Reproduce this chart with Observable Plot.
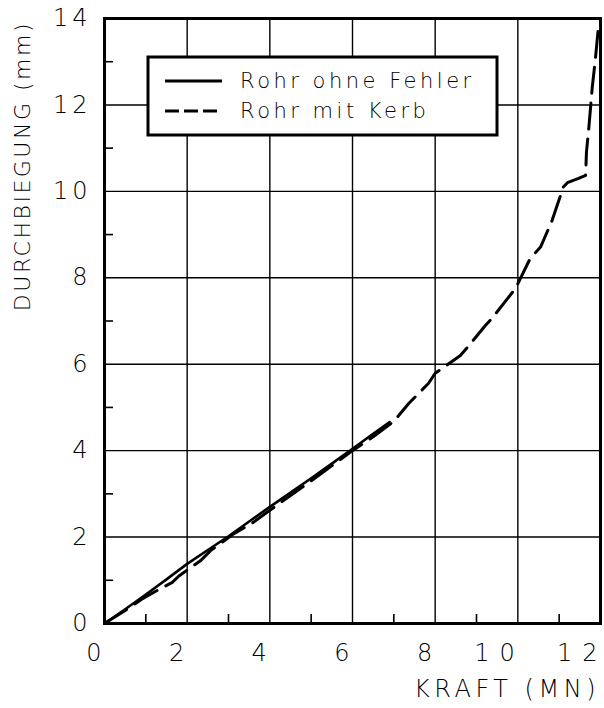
<!DOCTYPE html>
<html><head><meta charset="utf-8">
<script src="https://cdn.jsdelivr.net/npm/d3@7"></script>
<script src="https://cdn.jsdelivr.net/npm/@observablehq/plot@0.6"></script>
<style>
body{margin:0;background:#fff;}
#chart{position:relative;width:604px;height:708px;}
</style></head><body><div id="chart"></div>
<script>
// ---- data ----
const seriesNames = ["Rohr ohne Fehler", "Rohr mit Kerb"];
const kraftOhne = [0, 0.5, 1.0, 1.5, 2.0, 2.5, 3.0, 3.5, 4.0, 4.5, 5.0, 5.5, 6.0, 6.4, 6.9];
const biegOhne  = [0, 0.33, 0.67, 1.02, 1.38, 1.70, 2.02, 2.36, 2.70, 3.03, 3.36, 3.70, 4.04, 4.32, 4.66];
const kraftKerb = [0, 0.5, 0.9, 1.3, 1.64, 1.8, 2.32, 2.56, 3.1, 3.6, 4.0, 5.0, 6.0, 6.5, 7.0, 7.36, 7.84, 8.0, 8.27, 8.61, 8.78, 9.22, 9.39, 9.94, 10.04, 10.3, 10.55, 10.83, 11.1, 11.2, 11.47, 11.64, 11.66, 11.72, 11.8, 11.88, 11.95];
const biegKerb  = [0, 0.30, 0.56, 0.78, 0.95, 1.10, 1.45, 1.68, 2.06, 2.34, 2.62, 3.30, 4.00, 4.32, 4.68, 5.09, 5.56, 5.79, 5.97, 6.20, 6.39, 6.90, 7.08, 7.75, 7.94, 8.45, 8.71, 9.33, 10.10, 10.20, 10.30, 10.37, 10.90, 11.50, 12.40, 13.10, 13.80];
const xTicks = [0, 2, 4, 6, 8, 10, 12];
const yTicks = [0, 2, 4, 6, 8, 10, 12, 14];
const xMinor = [1, 3, 5, 7, 9, 11];
const yMinor = [1, 3, 5, 7, 9, 11, 13];
const xTitle = "KRAFT (MN)";
const yTitle = "DURCHBIEGUNG (mm)";

// ---- tables built from the arrays ----
const ohne = kraftOhne.map((k, i) => ({kraft: k, bieg: biegOhne[i]}));
const kerb = kraftKerb.map((k, i) => ({kraft: k, bieg: biegKerb[i]}));

const W = 604, H = 708, mL = 104, mR = 4, mT = 18, mB = 85;
const FONT = '"DejaVu Sans", sans-serif';
const INK = "#000";
const LS_XT = 10, LS_YT = 4, LS_XTITLE = 4.5, LS_YTITLE = 2.5;

const plot = Plot.plot({
  width: W, height: H,
  marginLeft: mL, marginRight: mR, marginTop: mT, marginBottom: mB,
  x: {domain: [0, 12], axis: null},
  y: {domain: [0, 14], axis: null},
  style: {background: "white", fontFamily: FONT, color: INK, overflow: "visible"},
  marks: [
    Plot.ruleX(xTicks, {x: d => d, stroke: INK, strokeWidth: 1.4}),
    Plot.ruleY(yTicks, {y: d => d, stroke: INK, strokeWidth: 1.4}),
    Plot.ruleX(xMinor, {x: d => d, stroke: INK, strokeWidth: 1.6, insetTop: H - mT - mB - 9}),
    Plot.ruleY(yMinor, {y: d => d, stroke: INK, strokeWidth: 1.6, insetRight: W - mL - mR - 9}),
    Plot.line(ohne, {x: "kraft", y: "bieg", stroke: INK, strokeWidth: 2.6, strokeLinejoin: "round"}),
    Plot.line(kerb, {x: "kraft", y: "bieg", stroke: INK, strokeWidth: 3, strokeDasharray: "26,10", strokeLinejoin: "round"}),
    Plot.frame({stroke: INK, strokeWidth: 3}),
    Plot.text(xTicks, {x: d => d, text: d => String(d), frameAnchor: "bottom", dy: 30, dx: -3,
      textAnchor: "end", lineAnchor: "middle", fontSize: 24, fontWeight: 200, fill: INK}),
    Plot.text(yTicks, {y: d => d, text: d => String(d), frameAnchor: "left", dx: -17,
      textAnchor: "end", lineAnchor: "middle", fontSize: 24, fontWeight: 200, fill: INK}),
    Plot.text([xTitle], {text: d => d, frameAnchor: "bottom-right", dy: 66, dx: -5,
      textAnchor: "end", lineAnchor: "middle", fontSize: 24, fontWeight: 200, fill: INK}),
    Plot.text([yTitle], {text: d => d, frameAnchor: "top-left", dx: -82, dy: 5, rotate: -90,
      textAnchor: "end", lineAnchor: "middle", fontSize: 22, fontWeight: 200, fill: INK})
  ]
});
document.getElementById("chart").appendChild(plot);

// letter-spacing between characters only (no trailing space after the last one)
function spaceOut(node, ls) {
  const t = node.textContent;
  if (t.length < 2) return;
  node.textContent = "";
  const s = d3.select(node);
  s.append("tspan").style("letter-spacing", ls + "px").text(t.slice(0, -1));
  s.append("tspan").text(t.slice(-1));
}
const svg = d3.select(plot);
const groups = svg.selectAll('g[aria-label="text"]').nodes();
[LS_XT, LS_YT, LS_XTITLE, LS_YTITLE].forEach((ls, i) => {
  d3.select(groups[i]).selectAll("text").each(function () { spaceOut(this, ls); });
});

// ---- legend box inside the plot ----
const lg = svg.append("g").attr("aria-label", "legend");
lg.append("rect").attr("x", 148).attr("y", 57).attr("width", 349).attr("height", 78)
  .attr("fill", "white").attr("stroke", INK).attr("stroke-width", 3);
const legendRows = [
  {name: seriesNames[0], dash: null, y: 81},
  {name: seriesNames[1], dash: "14,5", y: 111}
];
legendRows.forEach(r => {
  lg.append("line").attr("x1", 165).attr("x2", 222).attr("y1", r.y).attr("y2", r.y)
    .attr("stroke", INK).attr("stroke-width", 3).attr("stroke-dasharray", r.dash);
  const t = lg.append("text").attr("x", 240).attr("y", r.y).attr("dy", "0.35em")
    .attr("text-anchor", "start")
    .attr("font-family", FONT).attr("font-size", 21).attr("font-weight", 200)
    .attr("fill", INK).text(r.name);
  spaceOut(t.node(), 3.5);
});
</script>
</body></html>
